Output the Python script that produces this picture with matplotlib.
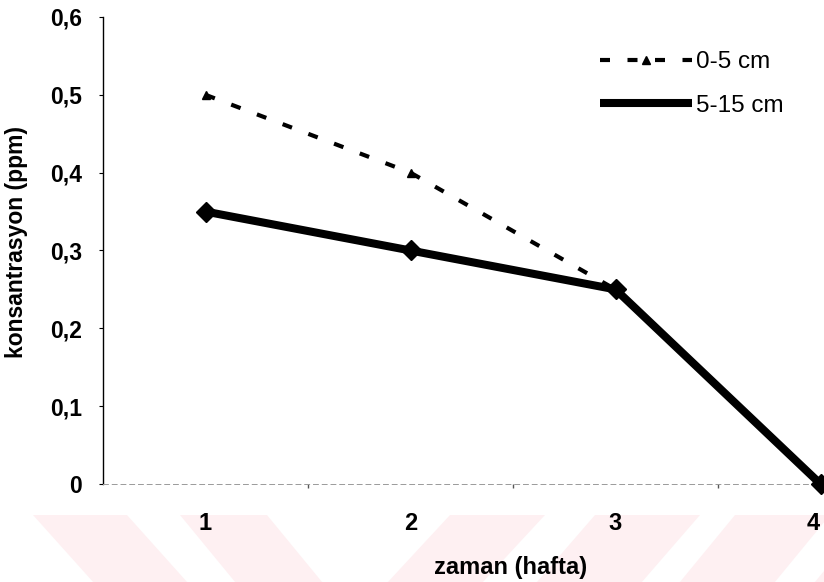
import matplotlib

matplotlib.use("Agg")
import matplotlib.pyplot as plt
import matplotlib.transforms as mtransforms
from matplotlib.patches import Polygon
from matplotlib.lines import Line2D

# data
weeks = [1, 2, 3, 4]
conc_0_5 = [0.50, 0.40, 0.25]          # 0-5 cm (last point hidden under the solid line)
conc_5_15 = [0.35, 0.30, 0.25, 0.0]    # 5-15 cm
yticks = [0, 0.1, 0.2, 0.3, 0.4, 0.5, 0.6]
ytick_labels = ["0", "0,1", "0,2", "0,3", "0,4", "0,5", "0,6"]
xtick_labels = ["1", "2", "3", "4"]

W, H = 824, 582
FONT = ["Liberation Sans", "DejaVu Sans"]

fig = plt.figure(figsize=(W / 100, H / 100), dpi=100)
fig.patch.set_facecolor("white")

# faint pink watermark stripes along the bottom edge (pixel coords, y from top)
pink = "#fef0f2"
top_y, bot_y = 515, 600
back = [(33, 127, 60), (180, 267, 55)]
fwd = [(450, 545, -62), (595, 700, -58), (735, 830, -55), (870, 960, -55)]
for x0, x1, shift in back + fwd:
    pts = [(x0, top_y), (x1, top_y), (x1 + shift * 1.27, bot_y), (x0 + shift * 1.27, bot_y)]
    pts = [(x / W, 1 - y / H) for x, y in pts]
    fig.add_artist(Polygon(pts, closed=True, transform=fig.transFigure,
                           facecolor=pink, edgecolor="none", zorder=-5))

ax = fig.add_axes([103 / W, 98 / H, 1 - 103 / W, (484 - 17) / H])
ax.patch.set_alpha(0)

ax.plot(weeks[:len(conc_0_5)], conc_0_5, color="black", lw=3.0,
        dashes=(2.4, 4.2), marker="^", markersize=6, zorder=3,
        clip_on=False)
ax.plot(weeks, conc_5_15, color="black", lw=5.8, solid_capstyle="butt",
        marker="D", markersize=10, zorder=4, clip_on=False)

ax.set_xlim(0.5, 0.5 + (W - 103) / 205)
ax.set_ylim(0, 0.6)

ax.spines["top"].set_visible(False)
ax.spines["right"].set_visible(False)
ax.spines["left"].set_linewidth(1.0)
ax.spines["bottom"].set_color("#9a9a9a")
ax.spines["bottom"].set_linewidth(0.7)
ax.spines["bottom"].set_linestyle((0, (5, 4)))

ax.set_yticks(yticks)
ax.set_yticklabels(ytick_labels, fontweight="bold", fontsize=16.5, family=FONT)
ax.tick_params(axis="y", direction="out", length=3, width=0.8, pad=12)

ax.set_xticks(weeks)
ax.set_xticklabels(xtick_labels, fontweight="bold", fontsize=17, family=FONT)
ax.set_xticks([1.5, 2.5, 3.5], minor=True)
ax.tick_params(axis="x", which="major", length=0, pad=20)
ax.tick_params(axis="x", which="minor", direction="out", length=3,
               width=1.0, color="#555555")

# last label sits on the figure edge; nudge it in a few pixels
last = ax.get_xticklabels()[-1]
last.set_transform(last.get_transform()
                   + mtransforms.ScaledTranslation(-7 / 100, 0, fig.dpi_scale_trans))

ax.set_xlabel("zaman (hafta)", fontweight="bold", fontsize=17, family=FONT)
ax.xaxis.set_label_coords((511 - 103) / (W - 103), -(556 - 484) / (484 - 17))
ax.set_ylabel("konsantrasyon (ppm)", fontweight="bold", fontsize=16.5, family=FONT)
ax.yaxis.set_label_coords(-(103 - 28) / (W - 103), (484 - 242) / (484 - 17))

handles = [
    Line2D([], [], color="black", lw=3.0, dashes=(2.4, 4.2), marker="^",
           markersize=6),
    Line2D([], [], color="black", lw=5.8, solid_capstyle="butt"),
]
fig.legend(handles, ["0-5 cm", "5-15 cm"], loc="upper left",
           bbox_to_anchor=(600 / W, 1 - 51 / H), frameon=False,
           prop={"family": FONT, "size": 17.5}, handlelength=3.8,
           handletextpad=0.15, labelspacing=0.9, borderpad=0,
           borderaxespad=0)

fig.savefig("out.png", dpi=100)
